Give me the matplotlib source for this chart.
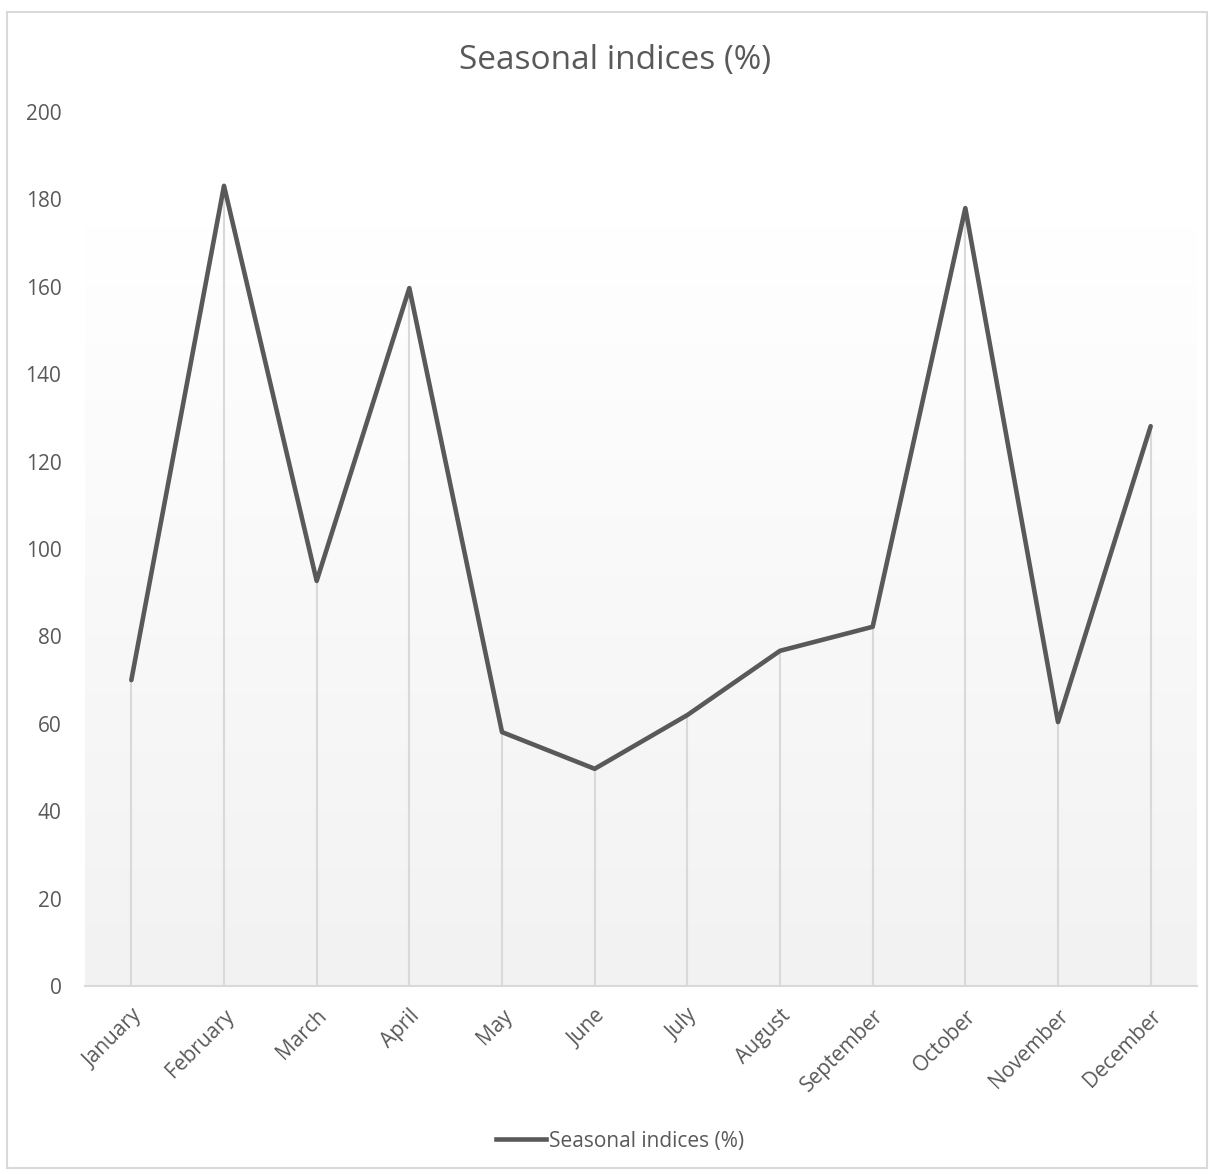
import numpy as np
import matplotlib
matplotlib.use("Agg")
from matplotlib import pyplot as plt
from matplotlib.lines import Line2D
from matplotlib.patches import Rectangle

months = ["January", "February", "March", "April", "May", "June", "July",
          "August", "September", "October", "November", "December"]
seasonal_index = [70.0, 183.1, 92.7, 159.7, 58.1, 49.7, 62.0, 76.7, 82.2,
                  178.0, 60.4, 128.1]
y_ticks = [0, 20, 40, 60, 80, 100, 120, 140, 160, 180, 200]

text_color = "#595959"
line_color = "#595959"
grid_color = "#d9d9d9"

plt.rcParams['font.family'] = ['Open Sans', 'DejaVu Sans']

fig = plt.figure(figsize=(12.13, 11.74), dpi=100)
fig.patch.set_facecolor("white")

# outer chart border
fig.add_artist(Rectangle((7 / 1213, 1 - 1168 / 1174), 1200 / 1213, 1156 / 1174,
                         transform=fig.transFigure, fill=False,
                         edgecolor="#d9d9d9", linewidth=1.5))

ax = fig.add_axes([85 / 1213, 1 - 986 / 1174, 1112 / 1213, 874 / 1174])
x = np.arange(len(months))
ax.set_xlim(-0.5, len(months) - 0.5)
ax.set_ylim(0, 200)

# plot-area gradient, white at the top fading to light grey
grad = np.linspace(0, 1, 256).reshape(-1, 1)
cmap = matplotlib.colors.LinearSegmentedColormap.from_list("fill", ["#f2f2f2", "#ffffff"])
ax.imshow(grad, cmap=cmap, aspect="auto", origin="lower",
          extent=(-0.5, len(months) - 0.5, 0, 174), zorder=0)

ax.vlines(x, 0, seasonal_index, color=grid_color, linewidth=1.5, zorder=1)
ax.plot(x, seasonal_index, color=line_color, linewidth=3.3,
        solid_joinstyle="round", solid_capstyle="round", zorder=3)

for side in ["top", "right", "left"]:
    ax.spines[side].set_visible(False)
ax.spines["bottom"].set_color(grid_color)
ax.spines["bottom"].set_linewidth(1.5)
ax.spines["bottom"].set_zorder(2)

ax.set_yticks(y_ticks)
ax.set_xticks(x)
ax.set_xticklabels(months, rotation=45, ha="right", rotation_mode="anchor")
ax.tick_params(axis="both", length=0, labelsize=15, labelcolor=text_color)
ax.tick_params(axis="y", pad=17)
ax.tick_params(axis="x", pad=14)

fig.text(615 / 1213, 1 - 60 / 1174, "Seasonal indices (%)", ha="center",
         va="center", fontsize=24, color=text_color)

handle = Line2D([], [], color=line_color, linewidth=3.3)
fig.legend([handle], ["Seasonal indices (%)"], loc="center",
           bbox_to_anchor=(620 / 1213, 1 - 1141 / 1174), frameon=False,
           fontsize=15, labelcolor=text_color, handlelength=2.4,
           handletextpad=0.15)

fig.savefig("out.png", dpi=100, facecolor="white")
